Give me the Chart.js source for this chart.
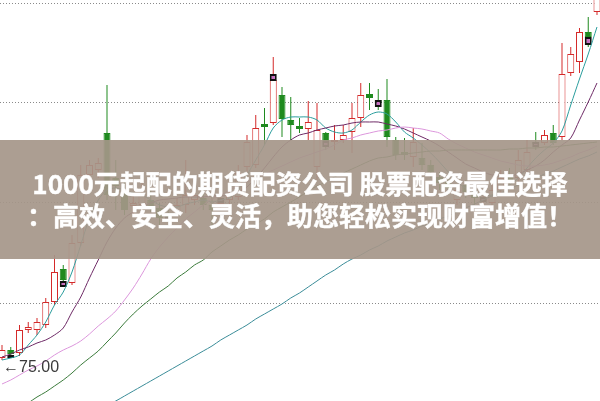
<!DOCTYPE html>
<html>
<head>
<meta charset="utf-8">
<script src="https://cdn.jsdelivr.net/npm/chart.js@4"></script>
<style>
  html, body { margin: 0; padding: 0; background: #fff; }
  #wrap { position: relative; width: 600px; height: 401px; overflow: hidden; }
  #banner {
    position: absolute; left: 0; top: 140px; width: 600px; height: 119px;
    background: rgba(165, 150, 137, 0.92);
    color: #fff; font-family: "Noto Sans CJK SC", sans-serif; font-weight: bold;
    font-size: 26px; line-height: 32px; text-align: center;
    -webkit-text-stroke: 0.4px #fff;
    box-sizing: border-box; padding-top: 27px; white-space: nowrap;
  }
</style>
</head>
<body>
<div id="wrap">
  <canvas id="kChart" width="600" height="401"></canvas>
  <div id="banner">
    <div>1000元起配的期货配资公司 股票配资最佳选择</div>
    <div>：高效、安全、灵活，助您轻松实现财富增值！</div>
  </div>
</div>
<script>
// Daily candles (oldest first)
const opens = [
  75.2, 76.0, 75.7, 78.0, 78.0, 78.5, 80.8, 84.1, 82.7, 86.7,
  93.5, 94.0, 97.7, 93.2, 92.0, 90.4, 90.5, 91.0, 90.2, 89.7,
  89.8, 90.5, 91.0, 91.2, 90.5, 90.6, 91.0, 91.3, 94.3, 94.5,
  98.6, 98.7, 101.5, 99.0, 98.4, 98.1, 94.3, 97.7, 96.8, 97.0,
  97.8, 99.2, 101.6, 101.0, 101.0, 97.0, 95.8, 95.3, 95.2, 94.5,
  93.3, 92.8, 91.0, 92.5, 91.8, 90.9, 90.7, 92.0, 93.5, 93.2,
  94.0, 96.8, 96.7, 97.7, 97.3, 103.7, 104.8, 107.8, 109.8
];
const closes = [
  76.0, 75.6, 78.0, 78.3, 78.8, 80.8, 83.8, 83.0, 86.7, 93.5,
  94.5, 94.7, 91.5, 92.4, 90.0, 90.7, 91.5, 90.2, 89.2, 89.2,
  90.5, 91.5, 91.5, 90.5, 90.0, 91.0, 91.7, 93.7, 96.8, 98.2,
  98.3, 103.0, 99.1, 98.5, 98.1, 98.8, 98.0, 96.9, 97.0, 97.5,
  99.2, 101.5, 101.2, 100.7, 97.3, 95.5, 95.5, 96.8, 94.5, 93.8,
  92.7, 92.2, 92.0, 91.8, 91.2, 91.2, 92.0, 93.2, 92.8, 95.0,
  95.8, 96.6, 97.5, 96.7, 103.6, 105.6, 107.8, 107.3, 111.5
];
const highs = [
  76.5, 76.3, 78.5, 78.8, 79.2, 81.2, 85.5, 84.5, 87.5, 94.5,
  95.0, 95.2, 102.5, 95.0, 92.8, 91.5, 93.7, 92.0, 90.7, 90.2,
  91.2, 95.0, 92.2, 92.0, 91.5, 91.5, 92.5, 94.5, 97.5, 99.5,
  100.2, 105.3, 102.3, 101.3, 99.2, 100.9, 100.7, 97.8, 98.5, 98.5,
  100.7, 102.7, 102.7, 102.1, 103.1, 97.3, 97.2, 98.2, 96.7, 95.0,
  93.8, 93.5, 92.5, 93.0, 92.2, 91.7, 92.7, 94.0, 94.2, 96.0,
  97.0, 97.8, 98.0, 98.5, 106.7, 106.3, 108.2, 109.3, 112.0
];
const lows = [
  75.0, 75.2, 75.4, 77.7, 77.5, 78.2, 80.5, 82.3, 82.5, 86.4,
  92.0, 93.2, 91.0, 90.0, 89.5, 89.5, 90.0, 89.8, 88.5, 88.8,
  89.5, 89.7, 90.5, 90.0, 88.3, 90.0, 90.5, 91.0, 93.8, 94.2,
  96.5, 98.5, 97.3, 97.0, 97.7, 97.0, 93.0, 96.0, 96.0, 96.7,
  95.7, 98.3, 100.0, 100.0, 96.3, 95.0, 95.0, 94.3, 94.0, 93.2,
  92.0, 91.5, 90.5, 91.2, 90.5, 90.5, 90.0, 91.7, 92.2, 92.8,
  93.5, 96.0, 96.5, 96.5, 97.0, 103.4, 103.7, 106.3, 109.5
];

// signal boxes drawn on some candles
const markIdx = [1, 7, 19, 25, 31, 37, 43, 55, 61, 67];
const markTop = [75.5, 82.9, 89.3, 91.2, 103.6, 96.9, 101.0, 91.3, 96.8, 107.3];
const markBot = [75.2, 82.3, 88.9, 90.7, 102.9, 96.3, 100.3, 90.8, 96.3, 106.5];

// moving averages
const ma5 = [
  75.0, 75.2, 75.5, 76.5, 77.5, 78.8, 80.5, 81.8, 83.8, 86.5,
  89.2, 91.0, 92.0, 92.2, 92.0, 91.7, 91.5, 91.0, 90.5, 90.3,
  90.3, 90.6, 90.8, 91.0, 90.8, 91.0, 91.2, 92.0, 93.5, 95.0,
  96.5, 98.2, 99.0, 99.3, 99.3, 99.3, 99.0, 98.2, 97.8, 97.7,
  98.0, 98.8, 99.5, 99.8, 99.6, 98.8, 97.8, 97.2, 96.5, 95.7,
  94.8, 93.8, 92.8, 92.2, 91.8, 91.5, 91.5, 92.0, 92.5, 93.2,
  94.2, 95.2, 96.0, 96.7, 97.9, 100.5, 103.1, 105.6, 108.3
];
const ma10 = [
  75.3, 75.6, 76.0, 76.3, 76.7, 77.0, 77.5, 78.2, 79.8, 81.3,
  83.2, 85.0, 86.8, 88.2, 89.2, 89.8, 90.3, 90.7, 91.0, 91.1,
  91.2, 91.3, 91.3, 91.3, 91.4, 91.4, 91.5, 91.8, 92.3, 93.2,
  94.2, 95.3, 96.3, 97.0, 97.5, 97.7, 98.0, 98.2, 98.4, 98.5,
  98.7, 98.8, 98.8, 98.8, 98.6, 98.4, 98.1, 97.7, 97.3, 96.9,
  96.4, 95.8, 95.2, 94.6, 94.2, 93.8, 93.5, 93.4, 93.4, 93.6,
  94.0, 94.4, 95.0, 95.8, 96.5, 97.2, 99.0, 100.8, 102.7
];
const ma20 = [
  72.6, 73.0, 73.5, 74.0, 74.4, 74.9, 75.5, 76.0, 76.4, 76.9,
  77.6, 78.4, 79.1, 79.9, 81.0, 82.2, 83.6, 85.1, 86.3, 87.3,
  88.2, 89.1, 89.8, 90.5, 91.1, 91.5, 92.0, 92.4, 92.8, 93.2,
  93.6, 94.0, 94.4, 94.8, 95.2, 95.5, 95.8, 96.1, 96.5, 97.0,
  97.2, 97.5, 97.7, 97.9, 98.0, 98.2, 98.3, 98.2, 98.1, 97.9,
  97.7, 97.1, 96.6, 96.2, 95.8, 95.5, 95.2, 94.9, 94.7, 94.5,
  94.4, 94.4, 94.5, 94.7, 95.0, 95.3, 95.7, 96.0, 96.4
];
const ma30 = [
  69.0, 69.5, 70.1, 70.7, 71.3, 71.8, 72.4, 73.0, 73.7, 74.5,
  75.2, 75.9, 76.8, 77.7, 78.7, 79.6, 80.4, 81.1, 81.8, 82.4,
  83.2, 83.8, 84.5, 85.0, 85.8, 86.4, 87.0, 87.5, 88.1, 88.6,
  89.1, 89.8, 90.3, 90.8, 91.3, 91.9, 92.4, 92.8, 93.3, 93.7,
  94.1, 94.5, 94.9, 95.2, 95.3, 95.5, 95.6, 95.7, 95.8, 95.9,
  95.9, 96.0, 96.0, 96.0, 96.0, 96.0, 96.0, 96.0, 96.1, 96.1,
  96.2, 96.2, 96.3, 96.3, 96.4, 96.5, 96.6, 96.7, 96.8
];
const ma60 = [
  64.7, 65.2, 65.7, 66.1, 66.6, 67.1, 67.6, 68.0, 68.5, 69.0,
  69.5, 70.0, 70.5, 70.9, 71.4, 71.9, 72.4, 72.9, 73.4, 73.9,
  74.4, 74.9, 75.4, 75.9, 76.4, 77.0, 77.5, 78.0, 78.5, 79.1,
  79.6, 80.1, 80.6, 81.2, 81.7, 82.3, 82.9, 83.5, 84.0, 84.6,
  85.1, 85.5, 86.0, 86.4, 86.9, 87.3, 87.7, 88.0, 88.4, 88.7,
  89.1, 89.4, 89.8, 90.2, 90.6, 91.0, 91.4, 91.7, 92.1, 92.5,
  92.8, 93.2, 93.6, 93.9, 94.3, 94.7, 95.1, 95.4, 95.8
];

// dotted price levels and the low marker
const gridLevels = [80.75, 90.8, 100.8, 110.75];
const lowLabel = '75.00';
const lowPrice = 75.0;

const UP = '#d42a2a';
const DOWN = '#1f8a1f';

const idx = opens.map((_, i) => i);
const isUp = idx.map(i => closes[i] >= opens[i]);

const lineSet = (data, color) => ({
    type: 'line',
    data: data.map((v, i) => ({ x: i, y: v })),
    borderColor: color,
    borderWidth: 1,
    pointRadius: 0,
    tension: 0.3,
    order: 0
});

// dotted grid + low label
const extras = {
    id: 'extras',
    beforeDatasetsDraw(chart) {
        const { ctx, chartArea, scales } = chart;
        ctx.save();
        ctx.strokeStyle = '#8a8a8a';
        ctx.lineWidth = 1;
        ctx.setLineDash([1, 2]);
        gridLevels.forEach(v => {
            const y = Math.round(scales.y.getPixelForValue(v)) + 0.5;
            ctx.beginPath();
            ctx.moveTo(chartArea.left, y);
            ctx.lineTo(chartArea.right, y);
            ctx.stroke();
        });
        ctx.restore();
    },
    afterDatasetsDraw(chart) {
        const { ctx, scales } = chart;
        const x = scales.x.getPixelForValue(0) + 1;
        const y = scales.y.getPixelForValue(lowPrice) + 8;
        ctx.save();
        ctx.fillStyle = '#3a3a3a';
        ctx.font = '16px "Liberation Sans", "DejaVu Sans", sans-serif';
        ctx.textBaseline = 'middle';
        ctx.fillText('\u2190' + lowLabel, x, y);
        ctx.restore();
    }
};

const ctx = document.getElementById('kChart').getContext('2d');
new Chart(ctx, {
    type: 'bar',
    data: {
        datasets: [
            {
                // wicks
                data: idx.map(i => ({ x: i, y: [lows[i], highs[i]] })),
                backgroundColor: idx.map(i => isUp[i] ? UP : DOWN),
                grouped: false,
                barPercentage: 1,
                maxBarThickness: 1,
                order: 3
            },
            {
                // bodies
                data: idx.map(i => ({ x: i, y: [opens[i], closes[i]] })),
                backgroundColor: idx.map(i => isUp[i] ? '#ffffff' : DOWN),
                borderColor: idx.map(i => isUp[i] ? UP : DOWN),
                borderWidth: 1,
                borderSkipped: false,
                grouped: false,
                barPercentage: 1,
                maxBarThickness: 7,
                order: 2
            },
            {
                // signal boxes
                data: markIdx.map((m, k) => ({ x: m, y: [markBot[k], markTop[k]] })),
                backgroundColor: '#c96cc2',
                borderColor: '#111111',
                borderWidth: 2,
                borderSkipped: false,
                grouped: false,
                barPercentage: 1,
                maxBarThickness: 7,
                order: 1
            },
            lineSet(ma60, '#3a8c98'),
            lineSet(ma30, '#3b7b3b'),
            lineSet(ma20, '#dc96dc'),
            lineSet(ma10, '#6e2a66'),
            lineSet(ma5, '#2a9d9d')
        ]
    },
    options: {
        responsive: false,
        animation: false,
        layout: { padding: 0 },
        plugins: {
            legend: { display: false },
            tooltip: { enabled: false }
        },
        scales: {
            x: {
                type: 'linear',
                min: -0.2286,
                max: 68.343,
                offset: false,
                display: false
            },
            y: {
                type: 'linear',
                min: 70.9,
                max: 111,
                display: false
            }
        }
    },
    plugins: [extras]
});
</script>
</body>
</html>
